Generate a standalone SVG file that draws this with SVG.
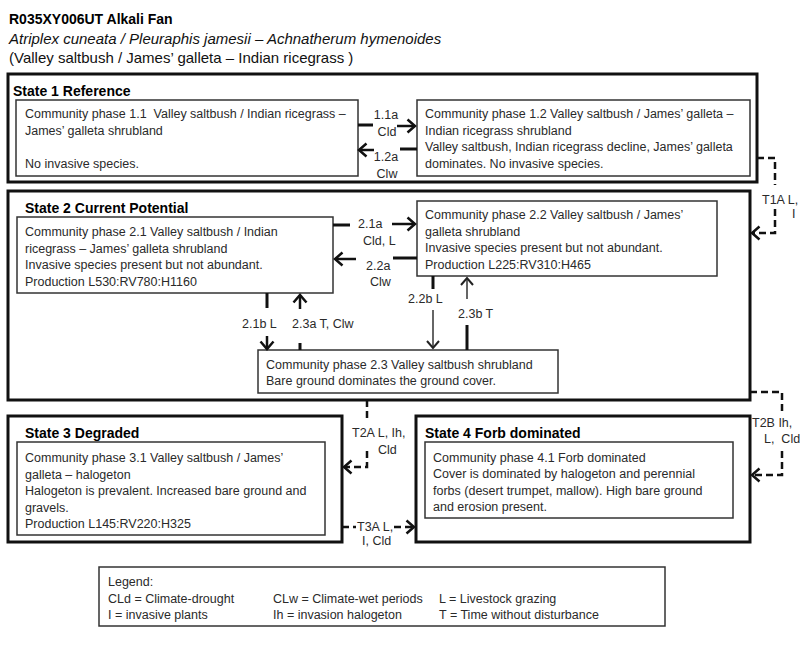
<svg xmlns="http://www.w3.org/2000/svg" width="800" height="651" viewBox="0 0 800 651">
<defs>
<style>
text{font-family:"Liberation Sans",Arial,sans-serif;}
.t{font-size:12.5px;fill:#2a2a2a;}
.h{font-size:14px;font-weight:bold;fill:#000;}
.hd{font-size:15px;fill:#111;}
.state{fill:#fff;stroke:#111;stroke-width:3;}
.phase{fill:#fff;stroke:#333;stroke-width:1.5;}
.stub{fill:none;stroke:#111;stroke-width:3;}
.arr{fill:none;stroke:#111;stroke-width:2.5;marker-end:url(#ah);}
.tarr{fill:none;stroke:#333;stroke-width:1.5;marker-end:url(#ahs);}
.dash{fill:none;stroke:#111;stroke-width:2.5;stroke-dasharray:7 4;}
.darr{fill:none;stroke:#111;stroke-width:2.5;stroke-dasharray:7 4;marker-end:url(#ah);}
</style>
<marker id="ah" markerUnits="userSpaceOnUse" markerWidth="16" markerHeight="16" viewBox="0 0 16 16" refX="10" refY="8" orient="auto"><path d="M2.5,1.5 L10,8 L2.5,14.5" fill="none" stroke="#111" stroke-width="2.5"/></marker>
<marker id="ahs" markerUnits="userSpaceOnUse" markerWidth="16" markerHeight="16" viewBox="0 0 16 16" refX="10" refY="8" orient="auto"><path d="M3,2 L10,8 L3,14" fill="none" stroke="#222" stroke-width="2"/></marker>
</defs>
<rect x="0" y="0" width="800" height="651" fill="#fff"/>

<g id="header">
<text class="h" x="9" y="24">R035XY006UT Alkali Fan</text>
<text class="hd" x="9" y="44" font-style="italic">Atriplex cuneata / Pleuraphis jamesii – Achnatherum hymenoides</text>
<text class="hd" x="9" y="63">(Valley saltbush / James’ galleta – Indian ricegrass )</text>
</g>

<g id="state1">
<rect class="state" x="8" y="74" width="749" height="108"/>
<text class="h" x="13" y="96">State 1 Reference</text>
</g>
<g id="phase1-1">
<rect class="phase" x="16" y="100" width="342" height="76"/>
<text class="t" x="25" y="118">Community phase 1.1&#160; Valley saltbush / Indian ricegrass –</text>
<text class="t" x="25" y="134.5">James’ galleta shrubland</text>
<text class="t" x="25" y="167.5">No invasive species.</text>
</g>
<g id="phase1-2">
<rect class="phase" x="417" y="100" width="333" height="76"/>
<text class="t" x="425" y="118">Community phase 1.2 Valley saltbush / James’ galleta –</text>
<text class="t" x="425" y="134.5">Indian ricegrass shrubland</text>
<text class="t" x="425" y="151">Valley saltbush, Indian ricegrass decline, James’ galleta</text>
<text class="t" x="425" y="167.5">dominates. No invasive species.</text>
</g>

<g id="state2">
<rect class="state" x="8" y="191" width="742" height="209"/>
<text class="h" x="25" y="213">State 2 Current Potential</text>
</g>
<g id="phase2-1">
<rect class="phase" x="17" y="217" width="316" height="76"/>
<text class="t" x="25" y="236">Community phase 2.1 Valley saltbush / Indian</text>
<text class="t" x="25" y="252.5">ricegrass – James’ galleta shrubland</text>
<text class="t" x="25" y="269">Invasive species present but not abundant.</text>
<text class="t" x="25" y="285.5">Production L530:RV780:H1160</text>
</g>
<g id="phase2-2">
<rect class="phase" x="417" y="201" width="300" height="75"/>
<text class="t" x="425" y="219">Community phase 2.2 Valley saltbush / James’</text>
<text class="t" x="425" y="235.5">galleta shrubland</text>
<text class="t" x="425" y="252">Invasive species present but not abundant.</text>
<text class="t" x="425" y="268.5">Production L225:RV310:H465</text>
</g>
<g id="phase2-3">
<rect class="phase" x="258" y="350" width="300" height="43"/>
<text class="t" x="266" y="369">Community phase 2.3 Valley saltbush shrubland</text>
<text class="t" x="266" y="385">Bare ground dominates the ground cover.</text>
</g>

<g id="state3">
<rect class="state" x="8" y="416" width="334" height="126"/>
<text class="h" x="25" y="438">State 3 Degraded</text>
</g>
<g id="phase3-1">
<rect class="phase" x="17" y="442" width="308" height="93"/>
<text class="t" x="25" y="462">Community phase 3.1 Valley saltbush / James’</text>
<text class="t" x="25" y="478.5">galleta – halogeton</text>
<text class="t" x="25" y="495">Halogeton is prevalent. Increased bare ground and</text>
<text class="t" x="25" y="511.5">gravels.</text>
<text class="t" x="25" y="528">Production L145:RV220:H325</text>
</g>

<g id="state4">
<rect class="state" x="416" y="416" width="334" height="126"/>
<text class="h" x="425" y="438">State 4 Forb dominated</text>
</g>
<g id="phase4-1">
<rect class="phase" x="425" y="442" width="308" height="76"/>
<text class="t" x="433" y="461.5">Community phase 4.1 Forb dominated</text>
<text class="t" x="433" y="478">Cover is dominated by halogeton and perennial</text>
<text class="t" x="433" y="494.5">forbs (desert trumpet, mallow). High bare ground</text>
<text class="t" x="433" y="511">and erosion present.</text>
</g>

<g id="connectors">
<line class="stub" x1="358" y1="125" x2="373" y2="125"/>
<line class="arr" x1="397" y1="126" x2="415" y2="126"/>
<text class="t" x="386" y="119" text-anchor="middle">1.1a</text>
<text class="t" x="387" y="136" text-anchor="middle">Cld</text>
<line class="stub" x1="400" y1="149" x2="417" y2="149"/>
<line class="arr" x1="374" y1="150" x2="359" y2="150"/>
<text class="t" x="386" y="161" text-anchor="middle">1.2a</text>
<text class="t" x="387" y="177.5" text-anchor="middle">Clw</text>
<line class="stub" x1="333" y1="225" x2="350" y2="225"/>
<line class="arr" x1="392" y1="224" x2="415" y2="224"/>
<text class="t" x="358" y="228">2.1a</text>
<text class="t" x="363" y="245">Cld, L</text>
<line class="stub" x1="393" y1="258" x2="417" y2="258"/>
<line class="arr" x1="356" y1="259" x2="335" y2="259"/>
<text class="t" x="366" y="270">2.2a</text>
<text class="t" x="370" y="286">Clw</text>
<line class="stub" x1="267" y1="293" x2="267" y2="308"/>
<line class="arr" x1="267" y1="336" x2="267" y2="349"/>
<text class="t" x="242" y="328">2.1b L</text>
<line class="stub" x1="300" y1="343" x2="300" y2="350"/>
<line class="arr" x1="300" y1="309" x2="300" y2="295"/>
<text class="t" x="292" y="328">2.3a T, Clw</text>
<line class="stub" x1="433" y1="276" x2="433" y2="289"/>
<line class="tarr" x1="433" y1="310" x2="433" y2="348"/>
<text class="t" x="408" y="303">2.2b L</text>
<line class="stub" x1="467" y1="325" x2="467" y2="350"/>
<line class="tarr" x1="467" y1="299" x2="467" y2="278"/>
<text class="t" x="458" y="318">2.3b T</text>
<path class="dash" d="M757,158 H775 V185"/>
<path class="darr" d="M775,209 V233 H752"/>
<text class="t" x="762" y="204">T1A L,</text>
<text class="t" x="792" y="218">I</text>
<path class="dash" d="M750,392 H782 V411"/>
<path class="darr" d="M782,451 V475 H752"/>
<text class="t" x="752" y="427">T2B Ih,</text>
<text class="t" x="764" y="443">L,&#160; Cld</text>
<path class="dash" d="M367,400 V419"/>
<path class="darr" d="M367,451 V467 H344"/>
<text class="t" x="352" y="437">T2A L, Ih,</text>
<text class="t" x="378" y="454">Cld</text>
<path class="dash" d="M342,527 H356"/>
<path class="darr" d="M394,527 H414"/>
<text class="t" x="357" y="531">T3A L,</text>
<text class="t" x="362" y="545">I, Cld</text>
</g>

<g id="legend">
<rect class="phase" x="99" y="567" width="566" height="59"/>
<text class="t" x="108" y="586">Legend:</text>
<text class="t" x="108" y="602.5">CLd = Climate-drought</text>
<text class="t" x="108" y="619">I = invasive plants</text>
<text class="t" x="273" y="602.5">CLw = Climate-wet periods</text>
<text class="t" x="273" y="619">Ih = invasion halogeton</text>
<text class="t" x="439" y="602.5">L = Livestock grazing</text>
<text class="t" x="439" y="619">T = Time without disturbance</text>
</g>
</svg>
